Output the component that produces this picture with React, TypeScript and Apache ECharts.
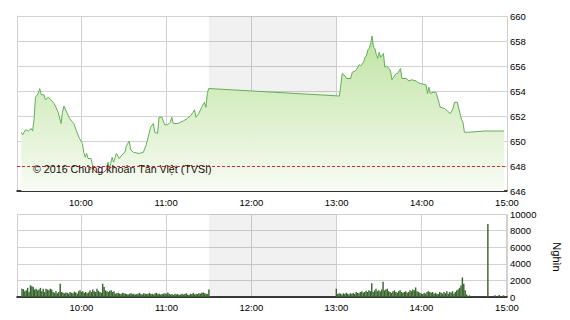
import React, { useEffect, useRef } from "react";
import * as echarts from "echarts";

const SESSION_START = "9:15";
const SESSION_END = "15:00";
const BREAK_START = "11:30";
const BREAK_END = "13:00";

const PRICE_MIN = 646;
const PRICE_MAX = 660;
const PRICE_STEP = 2;
const REFERENCE_PRICE = 648;

const VOLUME_MAX = 10000;
const VOLUME_STEP = 2000;

const WATERMARK = "© 2016 Chứng khoán Tân Việt (TVSI)";
const VOLUME_UNIT = "Nghìn";

const priceTimes = [
  "9:18", "9:19", "9:21", "9:23", "9:25", "9:26", "9:27", "9:28", "9:30", "9:31",
  "9:32", "9:34", "9:35", "9:37", "9:39", "9:41", "9:42", "9:44", "9:46", "9:47",
  "9:48", "9:50", "9:52", "9:55", "9:57", "9:59", "10:01", "10:02", "10:03", "10:04",
  "10:05", "10:07", "10:08", "10:09", "10:11", "10:16", "10:18", "10:19", "10:20", "10:21",
  "10:22", "10:23", "10:25", "10:27", "10:29", "10:31", "10:32", "10:34", "10:35", "10:37",
  "10:41", "10:44", "10:46", "10:48", "10:49", "10:51", "10:52", "10:54", "10:55", "10:57",
  "10:59", "11:01", "11:03", "11:04", "11:05", "11:08", "11:10", "11:12", "11:15", "11:17",
  "11:19", "11:20", "11:21", "11:23", "11:25", "11:27", "11:28", "11:29", "11:30",
  "13:02", "13:04", "13:06", "13:07", "13:10", "13:11", "13:13", "13:14", "13:16", "13:17",
  "13:19", "13:20", "13:21", "13:22", "13:23", "13:24", "13:25", "13:26", "13:27", "13:28",
  "13:29", "13:30", "13:31", "13:33", "13:34", "13:35", "13:37", "13:38", "13:39", "13:40",
  "13:42", "13:43", "13:45", "13:46", "13:49", "13:51", "13:53", "13:56", "13:57", "13:59",
  "14:03", "14:04", "14:05", "14:06", "14:08", "14:10", "14:13", "14:16", "14:18", "14:20",
  "14:22", "14:23", "14:25", "14:28", "14:29", "14:30", "14:33", "14:44", "14:58",
];

const priceValues = [
  650.7, 650.5, 650.9, 650.8, 651.0, 650.8, 651.7, 653.5, 653.8, 654.2,
  653.7, 653.7, 653.3, 653.5, 653.3, 653.0, 652.8, 652.3, 651.4, 652.3,
  652.8, 652.3, 651.8, 651.4, 650.75, 650.2, 649.8, 649.1, 648.7, 649.0,
  648.6, 648.6, 648.2, 647.7, 647.5, 647.5, 647.7, 648.3, 647.8, 648.2,
  648.7, 648.3, 649.0, 648.6, 648.9, 649.1, 649.6, 650.0, 649.3, 649.1,
  649.0, 649.1, 649.7, 650.6, 651.1, 651.4, 650.7, 650.6, 651.9, 651.9,
  651.3, 651.3, 651.5, 651.9, 651.4, 651.4, 651.5, 651.6, 651.8, 652.0,
  652.3, 652.5, 651.9, 652.2, 652.7, 653.1, 652.7, 653.8, 654.2,
  653.6, 655.4, 655.2, 655.0, 655.0, 655.5, 655.6, 655.7, 656.1, 656.0,
  656.3, 656.7, 656.8, 657.3, 657.4, 657.8, 658.4, 657.5, 657.4, 656.9,
  656.6, 657.1, 656.7, 657.0, 655.9, 656.0, 655.8, 655.6, 654.9, 655.1,
  655.4, 655.4, 655.8, 655.0, 655.0, 654.8, 654.9, 654.8, 654.7, 654.6,
  654.5, 653.8, 654.3, 653.8, 653.9, 653.9, 652.7, 652.6, 652.4, 652.2,
  652.6, 653.1, 653.1, 651.7, 651.5, 650.7, 650.7, 650.8, 650.8,
];

// one bar per minute, starting at 9:18
const morningVolumeStart = "9:18";
const morningVolumes = [
  1000, 950, 700, 800, 1100, 600, 1400, 1300, 1200, 900,
  1000, 800, 900, 1100, 700, 1000, 600, 1000, 900, 800,
  1000, 900, 600, 500, 700, 450, 600, 1600, 600, 500,
  450, 550, 500, 400, 600, 500, 450, 650, 550, 400,
  700, 800, 600, 700, 500, 600, 450, 550, 800, 600,
  900, 700, 600, 1000, 750, 600, 500, 1600, 1200, 800,
  700, 600, 750, 800, 600, 700, 400, 450, 500, 400,
  350, 500, 450, 400, 350, 300, 400, 450, 350, 400,
  300, 350, 400, 500, 350, 300, 450, 400, 350, 400,
  500, 350, 400, 300, 450, 500, 350, 400, 300, 350,
  400, 450, 350, 550, 400, 300, 350, 250, 400, 300,
  350, 250, 300, 400, 300, 350, 450, 300, 250, 400,
  350, 500, 300, 400, 350, 450, 400, 500, 550, 450,
  400, 350, 900,
];

// one bar per minute, starting at 13:00
const afternoonVolumeStart = "13:00";
const afternoonVolumes = [
  1000, 350, 450, 400, 300, 450, 350, 500, 400, 300,
  450, 400, 500, 350, 600, 500, 450, 600, 700, 500,
  600, 750, 600, 800, 700, 1650, 600, 800, 1000, 700,
  800, 650, 900, 1850, 800, 900, 1000, 700, 600, 500,
  700, 800, 600, 500, 700, 800, 600, 500, 600, 700,
  500, 600, 800, 700, 900, 800, 1150, 700, 600, 500,
  400, 350, 500, 400, 600, 700, 600, 500, 600, 400,
  500, 400, 350, 600, 500, 400, 600, 450, 700, 400,
  600, 500, 700, 400, 600, 800, 900, 1100, 1400, 2350,
  1600, 800, 300, 100, 200, 0,
];

const closingVolumeTimes = ["14:47", "14:52", "14:55", "14:58"];
const closingVolumes = [8800, 200, 250, 200];

const FONT = "'Liberation Sans', Arial, Helvetica, sans-serif";
const UP_COLOR = "#62ae57";
const DOWN_COLOR = "#d8473f";

function ts(hm: string): number {
  const [h, m] = hm.split(":").map(Number);
  return new Date(2016, 0, 4, h, m).getTime();
}

function pad(n: number) {
  return n < 10 ? "0" + n : String(n);
}

function perMinute(start: string, values: number[]) {
  const s = ts(start);
  return values.map((v, i) => [s + i * 60000, v]);
}

function breakArea(yMin: number, yMax: number) {
  return {
    silent: true,
    itemStyle: { color: "rgba(0,0,0,0.055)" },
    data: [
      [
        { coord: [ts(BREAK_START), yMin] },
        { coord: [ts(BREAK_END), yMax] },
      ],
    ],
  };
}

export default function App() {
  const ref = useRef<HTMLDivElement>(null);

  useEffect(() => {
    if (!ref.current) return;
    const chart = echarts.init(ref.current, undefined, { renderer: "svg" });

    const priceData = priceTimes.map((t, i) => [ts(t), priceValues[i]]);
    const volumeData = [
      ...perMinute(morningVolumeStart, morningVolumes),
      ...perMinute(afternoonVolumeStart, afternoonVolumes),
      ...closingVolumeTimes.map((t, i) => [ts(t), closingVolumes[i]]),
    ];

    const gridLine = { lineStyle: { color: "#d2d2d2", width: 1 } };
    const labelFmt = (v: number) => {
      const d = new Date(v);
      return pad(d.getHours()) + ":" + pad(d.getMinutes());
    };

    const makeX = (gridIndex: number, margin: number) => ({
      type: "time",
      gridIndex,
      min: ts(SESSION_START),
      max: ts(SESSION_END),
      splitNumber: 6,
      axisLine: { show: true, lineStyle: { color: "#000", width: 1.5 } },
      axisTick: { show: false },
      splitLine: { show: true, ...gridLine },
      axisLabel: {
        formatter: labelFmt,
        fontSize: 9.5,
        color: "#000",
        fontFamily: FONT,
        margin,
        showMaxLabel: true,
        hideOverlap: false,
      },
    });

    const yLabel = {
      fontSize: 9.5,
      color: "#000",
      margin: 3,
      fontFamily: FONT,
      formatter: (v: number) => String(v),
    };

    chart.setOption({
      animation: false,
      textStyle: { fontFamily: FONT },
      grid: [
        { left: 17, right: 63, top: 16, height: 175 },
        { left: 17, right: 63, top: 214, height: 83 },
      ],
      xAxis: [makeX(0, 6), makeX(1, 5)],
      yAxis: [
        {
          type: "value",
          gridIndex: 0,
          position: "right",
          min: PRICE_MIN,
          max: PRICE_MAX,
          interval: PRICE_STEP,
          axisLine: { show: false },
          axisTick: { show: false },
          splitLine: { show: true, ...gridLine },
          axisLabel: yLabel,
        },
        {
          type: "value",
          gridIndex: 0,
          position: "left",
          min: PRICE_MIN,
          max: PRICE_MAX,
          axisLine: { show: true, lineStyle: { color: "#d2d2d2" } },
          axisTick: { show: false },
          axisLabel: { show: false },
          splitLine: { show: false },
        },
        {
          type: "value",
          gridIndex: 1,
          position: "right",
          min: 0,
          max: VOLUME_MAX,
          interval: VOLUME_STEP,
          axisLine: { show: false },
          axisTick: { show: false },
          splitLine: { show: true, ...gridLine },
          axisLabel: yLabel,
        },
        {
          type: "value",
          gridIndex: 1,
          position: "left",
          min: 0,
          max: VOLUME_MAX,
          axisLine: { show: true, lineStyle: { color: "#d2d2d2" } },
          axisTick: { show: false },
          axisLabel: { show: false },
          splitLine: { show: false },
        },
      ],
      series: [
        {
          type: "line",
          xAxisIndex: 0,
          yAxisIndex: 0,
          data: priceData,
          showSymbol: false,
          symbol: "none",
          lineStyle: { width: 1, color: UP_COLOR },
          itemStyle: { color: UP_COLOR },
          areaStyle: {
            origin: "start",
            color: new echarts.graphic.LinearGradient(0, 0, 0, 1, [
              { offset: 0, color: "#c0e3a2" },
              { offset: 1, color: "#f8fcf5" },
            ]),
            opacity: 1,
          },
          z: 3,
          markArea: breakArea(PRICE_MIN, PRICE_MAX),
          markLine: {
            silent: true,
            symbol: ["none", "none"],
            label: { show: false },
            lineStyle: { color: "#d42a2a", type: [3, 2], width: 1 },
            data: [{ yAxis: REFERENCE_PRICE }],
          },
        },
        {
          type: "bar",
          xAxisIndex: 1,
          yAxisIndex: 2,
          data: volumeData,
          barWidth: 1.45,
          itemStyle: { color: "#3a6630" },
          markArea: breakArea(0, VOLUME_MAX),
        },
      ],
      graphic: [
        {
          type: "text",
          x: 33,
          y: 168.5,
          z: 10,
          style: {
            text: WATERMARK,
            fontSize: 10.7,
            fill: "#111",
            fontFamily: FONT,
            align: "left",
            verticalAlign: "middle",
          },
        },
        {
          type: "text",
          x: 557,
          y: 257,
          rotation: -Math.PI / 2,
          style: {
            text: VOLUME_UNIT,
            fontSize: 11,
            fill: "#000",
            fontFamily: FONT,
            align: "center",
            verticalAlign: "middle",
          },
        },
      ],
    });

    // colour the price line red below the reference price, using the axis scale
    const refY = chart.convertToPixel({ yAxisIndex: 0 }, REFERENCE_PRICE) as number;
    const h = chart.getHeight();
    if (typeof refY === "number" && isFinite(refY)) {
      const off = Math.min(1, Math.max(0, refY / h));
      chart.setOption({
        series: [
          {
            lineStyle: {
              color: new echarts.graphic.LinearGradient(
                0, 0, 0, h,
                [
                  { offset: 0, color: UP_COLOR },
                  { offset: off, color: UP_COLOR },
                  { offset: off, color: DOWN_COLOR },
                  { offset: 1, color: DOWN_COLOR },
                ],
                true
              ),
            },
          },
        ],
      });
    }

    return () => chart.dispose();
  }, []);

  return (
    <div
      ref={ref}
      style={{ position: "absolute", left: 0, top: 0, width: 570, height: 320, background: "#fff" }}
    />
  );
}
